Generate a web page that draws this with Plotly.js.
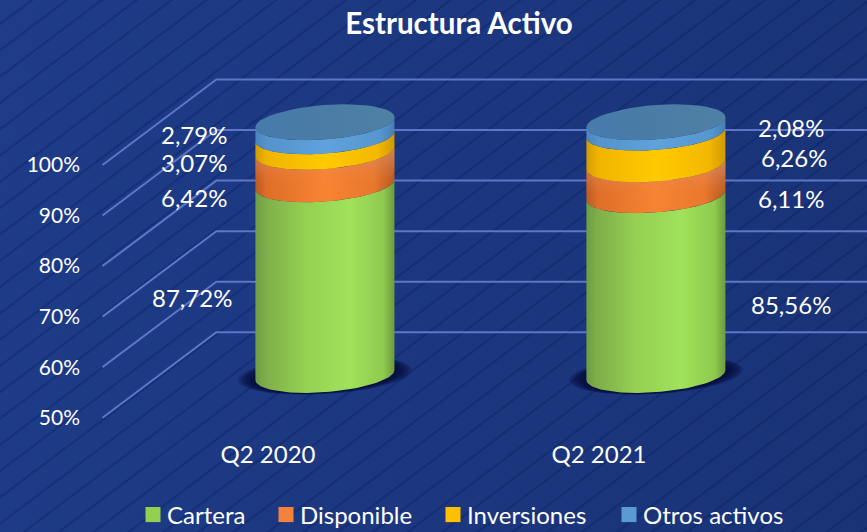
<!DOCTYPE html>
<html>
<head>
<meta charset="utf-8">
<script src="https://cdn.plot.ly/plotly-3.0.1.min.js"></script>
<style>
html,body{margin:0;padding:0;width:867px;height:532px;overflow:hidden}
#bg{position:absolute;left:0;top:0;width:867px;height:532px;
background:
 linear-gradient(100deg,rgba(255,255,255,0.0) 0%,rgba(8,14,50,0.20) 100%),
 repeating-linear-gradient(143deg,#1e3c88 0px,#1e3c88 17.5px,#16307a 19px,#16307a 19.5px,#1e3c88 21px);}
#chart{position:absolute;left:0;top:0;width:867px;height:532px;overflow:hidden}
</style>
</head>
<body>
<div id="bg"></div>
<div id="chart"></div>
<script>
const categories = ['Q2 2020', 'Q2 2021'];
const cartera = [87.72, 85.56];
const disponible = [6.42, 6.11];
const inversiones = [3.07, 6.26];
const otros = [2.79, 2.08];
const yTicks = [50, 60, 70, 80, 90, 100];
const seriesNames = ['Cartera', 'Disponible', 'Inversiones', 'Otros activos'];
const seriesValues = [cartera, disponible, inversiones, otros];

const FONT = 'Lato, Carlito, Calibri, sans-serif';
const base = 50, axisTop = 100;
const depthX = 0.344, depthY = 16.9;      // 3D wall offset (axis units)
const gridX0 = -0.5;
const A = 0.21, B = 3.4, K = 1.0;          // ellipse geometry (axis units)

const legendColors = ['#92d050', '#f4813c', '#ffc000', '#5b9bd5'];
const legendTextX = [167, 300, 467, 643];
const gradients = [
  [[0,'#6f9c46'],[0.08,'#7fae4a'],[0.35,'#94d052'],[0.68,'#a0e25a'],[0.92,'#8ecb4e'],[1,'#6e9a40']],
  [[0,'#b85a22'],[0.08,'#de6e28'],[0.5,'#f88433'],[0.85,'#e9782c'],[1,'#b55a20']],
  [[0,'#cf9c04'],[0.08,'#f0b400'],[0.5,'#ffca00'],[0.88,'#f4b800'],[1,'#cf9a04']],
  [[0,'#4a85bb'],[0.08,'#5493cb'],[0.5,'#5fa2dc'],[0.9,'#5596ce'],[1,'#4580b4']]
];
const topFace = [[0,'#477bab'],[0.5,'#4a7ca6'],[1,'#4f80a4']];
const gridColor = '#5e76c6';

// axis mapping of the plot area; the canvas runs a little past the window
// so the bottom legend does not push the plot's margin
const H = 570;
const pxPerUnit = 5.055, front50 = 417.7, catStep = 331, catX0 = 268;
const plotL = 81, plotBottom = 435;
const yv = px => base + (front50 - px) / pxPerUnit;
const xv = px => (px - catX0) / catStep;

const traces = [];

// walls: diagonal floor line + back horizontal line
yTicks.forEach(v => {
  traces.push({x:[gridX0, gridX0 + depthX, xv(870)], y:[v, v + depthY, v + depthY],
    mode:'lines', line:{color:gridColor, width:2}, showlegend:false, hoverinfo:'skip'});
});

const T = 48;
function arc(cx, cy, t0, t1) {
  const xs = [], ys = [];
  for (let i = 0; i <= T; i++) {
    const t = t0 + (t1 - t0) * i / T;
    xs.push(cx + A * Math.cos(t));
    ys.push(cy + K * Math.cos(t) + B * Math.sin(t));
  }
  return [xs, ys];
}

categories.forEach((c, i) => {
  const cx = i + depthX / 2, off = depthY / 2;
  // ground shadow
  [1.25, 1.22, 1.19, 1.16, 1.13, 1.10, 1.07, 1.04].forEach(s => {
    const xs = [], ys = [];
    for (let j = 0; j <= 60; j++) {
      const t = 2 * Math.PI * j / 60;
      xs.push(cx + A * s * Math.cos(t));
      ys.push(base + off + K * Math.cos(t) + B * (0.55 + 0.45 * s) * Math.sin(t));
    }
    traces.push({x:xs, y:ys, mode:'lines', line:{width:0}, fill:'toself',
      fillcolor:'rgba(4,12,55,0.2)', showlegend:false, hoverinfo:'skip'});
  });
  // stacked segments, clipped at the axis minimum
  let sum = 0;
  seriesValues.forEach((vals, s) => {
    const v0 = Math.max(sum, base);
    const v1 = sum + vals[i];
    const low = arc(cx, v0 + off, Math.PI, 2 * Math.PI);
    const up = arc(cx, v1 + off, 2 * Math.PI, Math.PI);
    const xs = low[0].concat(up[0]), ys = low[1].concat(up[1]);
    traces.push({x:xs, y:ys, mode:'lines', line:{width:0}, fill:'toself',
      fillgradient:{type:'horizontal', colorscale:gradients[s]},
      name:seriesNames[s], showlegend:false, hoverinfo:'skip'});
    if (s === 1) {
      traces.push({x:xs, y:ys, mode:'lines', line:{width:0}, fill:'toself',
        fillgradient:{type:'vertical', colorscale:[[0,'rgba(240,120,40,0)'],[0.35,'rgba(240,130,70,0)'],[1,'rgba(215,150,120,0.75)']]},
        showlegend:false, hoverinfo:'skip'});
    }
    sum = v1;
  });
  // top face
  const face = arc(cx, axisTop + off, 0, 2 * Math.PI);
  traces.push({x:face[0], y:face[1], mode:'lines', line:{width:0}, fill:'toself',
    fillgradient:{type:'horizontal', colorscale:topFace}, showlegend:false, hoverinfo:'skip'});
});

// legend entries: one small legend per series so each sits at its own place
const legendLayouts = {};
seriesNames.forEach((n, s) => {
  const key = s === 0 ? 'legend' : 'legend' + (s + 1);
  traces.push({x:[null], y:[null], mode:'markers', name:n, legend:key,
    marker:{symbol:'square', size:15, color:legendColors[s]}, hoverinfo:'skip'});
  legendLayouts[key] = {x:(legendTextX[s] - 40 - plotL) / (867 - plotL), xanchor:'left',
    y:(H - 515) / H, yanchor:'middle', bgcolor:'rgba(0,0,0,0)',
    borderwidth:0, font:{family:FONT, size:24, color:'#ffffff'}};
});

// data labels (centres, in page pixels)
const fmt = v => v.toFixed(2).replace('.', ',') + '%';
const labelX = [[192,194,194,194],[791,791,794,791]];
const labelY = [[297,197,162,134],[304,198,157,127]];
const annotations = [];
categories.forEach((c, i) => {
  seriesValues.forEach((vals, s) => {
    annotations.push({x:xv(labelX[i][s]), y:yv(labelY[i][s]), xref:'x', yref:'y',
      text:fmt(vals[i]), showarrow:false, xanchor:'center', yanchor:'middle',
      font:{family:FONT, size:24, color:'#ffffff'}});
  });
});

const layout = Object.assign({
  width:867, height:H, margin:{l:plotL, r:0, t:0, b:0},
  paper_bgcolor:'rgba(0,0,0,0)', plot_bgcolor:'rgba(0,0,0,0)',
  title:{text:'<b>Estructura Activo</b>', x:459/867, xanchor:'center', xref:'container', y:1 - 24/H, yref:'container', yanchor:'middle',
    font:{family:FONT, size:29.5, color:'#ffffff'}},
  xaxis:{range:[xv(plotL), xv(867)], tickmode:'array', tickvals:categories.map((c,i)=>i), ticktext:categories,
    showgrid:false, zeroline:false, showline:false, ticks:'', ticklabelstandoff:3,
    tickfont:{family:FONT, size:24, color:'#ffffff'}},
  yaxis:{domain:[(H-plotBottom)/H, 1], range:[yv(plotBottom), yv(0)], tickmode:'array', tickvals:yTicks, ticktext:yTicks.map(v=>v+'%'),
    showgrid:false, zeroline:false, showline:false, ticks:'',
    tickfont:{family:FONT, size:21, color:'#ffffff'}},
  showlegend:true,
  annotations:annotations
}, legendLayouts);

Plotly.newPlot('chart', traces, layout, {displayModeBar:false, staticPlot:true}).then(() => {
  // the reference keeps the swatch closer to its text than the legend's default gap
  document.querySelectorAll('.legendsymbols').forEach(g => g.setAttribute('transform', 'translate(6,0)'));
});
</script>
</body>
</html>
